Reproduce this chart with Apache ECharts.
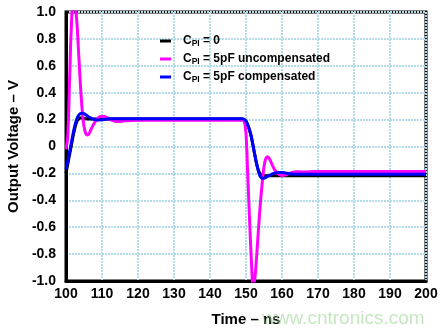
<!DOCTYPE html>
<html>
<head>
<meta charset="utf-8">
<script src="https://cdn.jsdelivr.net/npm/echarts@6/dist/echarts.min.js"></script>
<style>
  html, body { margin: 0; padding: 0; background: #ffffff; }
  #chart { width: 447px; height: 335px; }
</style>
</head>
<body>
<div id="chart"></div>
<script>
// Sample times (ns), shared by all three traces
const timeNs = [
  100, 100.5, 101, 101.5, 102, 102.5, 103, 103.5, 104, 104.5, 105, 105.5, 106, 106.5,
  107, 108, 109, 110, 111, 112, 113, 114, 115, 116,
  118, 120, 130, 140, 149,
  149.5, 150, 150.5, 151, 151.5, 152, 152.5, 153, 153.5, 154, 154.5, 155, 155.5, 156, 156.5, 157, 157.5,
  158, 159, 160, 161, 162, 163, 164, 165, 166,
  168, 170, 180, 190, 200
];

// Output voltage (V), CPI = 0
const outNoCap = [
  -0.2, -0.13, -0.06, 0.01, 0.08, 0.14, 0.185, 0.205, 0.212, 0.212, 0.208, 0.206, 0.205, 0.205,
  0.205, 0.205, 0.205, 0.205, 0.205, 0.205, 0.205, 0.205, 0.205, 0.205,
  0.205, 0.205, 0.205, 0.205, 0.205,
  0.2, 0.185, 0.16, 0.12, 0.07, 0.0, -0.07, -0.135, -0.18, -0.205, -0.215, -0.218, -0.218, -0.217, -0.217, -0.217, -0.217,
  -0.217, -0.217, -0.217, -0.217, -0.217, -0.217, -0.217, -0.217, -0.217,
  -0.217, -0.217, -0.217, -0.217, -0.217
];

// Output voltage (V), CPI = 5pF uncompensated
const outUncomp = [
  -0.02, 0.08, 0.5, 0.9, 1.06, 1.05, 0.93, 0.7, 0.46, 0.27, 0.15, 0.095, 0.085, 0.1,
  0.13, 0.18, 0.215, 0.225, 0.22, 0.205, 0.192, 0.186, 0.187, 0.19,
  0.194, 0.195, 0.195, 0.195, 0.195,
  0.19, 0.1, -0.22, -0.55, -0.85, -1.04, -0.97, -0.8, -0.6, -0.42, -0.27, -0.15, -0.09, -0.076, -0.09, -0.12, -0.15,
  -0.175, -0.205, -0.215, -0.21, -0.2, -0.192, -0.188, -0.188, -0.19,
  -0.188, -0.185, -0.185, -0.185, -0.185
];

// Output voltage (V), CPI = 5pF compensated
const outComp = [
  -0.17, -0.11, -0.04, 0.03, 0.1, 0.16, 0.205, 0.232, 0.245, 0.248, 0.244, 0.236, 0.226, 0.217,
  0.21, 0.2, 0.197, 0.199, 0.203, 0.206, 0.207, 0.207, 0.207, 0.207,
  0.207, 0.207, 0.207, 0.207, 0.207,
  0.2, 0.19, 0.16, 0.12, 0.07, 0.0, -0.07, -0.135, -0.19, -0.225, -0.236, -0.236, -0.23, -0.222, -0.215, -0.208, -0.202,
  -0.198, -0.193, -0.193, -0.197, -0.202, -0.205, -0.207, -0.207, -0.207,
  -0.207, -0.207, -0.207, -0.207, -0.207
];

const seriesNames = ['CPI = 0', 'CPI = 5pF uncompensated', 'CPI = 5pF compensated'];
const legendTails = [' = 0', ' = 5pF uncompensated', ' = 5pF compensated'];
const seriesValues = [outNoCap, outUncomp, outComp];
const seriesColors = ['#000000', '#ff00ff', '#0000ff'];

const FONT = '"Liberation Sans", Arial, sans-serif';

const chart = echarts.init(document.getElementById('chart'), null, { renderer: 'canvas' });

const pairs = (vals) => timeNs.map((t, i) => [t, vals[i]]);

const gridLine = { show: true, lineStyle: { color: '#b3dbe8', width: 2, type: [2, 1] } };

chart.setOption({
  backgroundColor: '#ffffff',
  animation: false,
  grid: {
    left: 66, right: 21, top: 12, bottom: 54,
    show: true, borderColor: '#000', borderWidth: 3,
    outerBoundsMode: 'none'
  },
  legend: {
    orient: 'vertical',
    left: 160, top: 35,
    padding: 0,
    itemWidth: 11, itemHeight: 3, itemGap: 5,
    icon: 'rect',
    data: seriesNames,
    formatter: (name) => '{c|C}{s|PI}{t|' + legendTails[seriesNames.indexOf(name)] + '}',
    textStyle: {
      fontFamily: FONT, fontWeight: 'bold', color: '#000',
      rich: {
        c: { fontFamily: FONT, fontWeight: 'bold', fontSize: 12, lineHeight: 14, padding: [0, 0, 0, 7], color: '#000' },
        s: { fontFamily: FONT, fontWeight: 'bold', fontSize: 8.5, lineHeight: 14, verticalAlign: 'bottom', padding: [3, 0, 0, 0], color: '#000' },
        t: { fontFamily: FONT, fontWeight: 'bold', fontSize: 12, lineHeight: 14, color: '#000' }
      }
    }
  },
  xAxis: {
    type: 'value',
    min: 100, max: 200, interval: 10,
    name: 'Time \u2013 ns',
    nameLocation: 'middle', nameGap: 31,
    nameTextStyle: { fontFamily: FONT, fontWeight: 'bold', fontSize: 15, color: '#000' },
    axisLine: { show: true, onZero: false, lineStyle: { color: '#000', width: 3 } },
    axisTick: { show: false },
    axisLabel: { margin: 6, fontFamily: FONT, fontWeight: 'bold', fontSize: 14, color: '#000' },
    splitLine: gridLine
  },
  yAxis: {
    type: 'value',
    min: -1, max: 1, interval: 0.2,
    name: 'Output Voltage \u2013 V',
    nameLocation: 'middle', nameGap: 44,
    nameTextStyle: { fontFamily: FONT, fontWeight: 'bold', fontSize: 15, color: '#000' },
    axisLine: { show: true, onZero: false, lineStyle: { color: '#000', width: 3 } },
    axisTick: { show: false },
    axisLabel: {
      margin: 10, fontFamily: FONT, fontWeight: 'bold', fontSize: 14, color: '#000',
      formatter: (v) => Math.abs(v) < 1e-9 ? '0' : v.toFixed(1)
    },
    splitLine: gridLine
  },
  series: seriesNames.map((name, i) => ({
    name,
    type: 'line',
    data: pairs(seriesValues[i]),
    showSymbol: false,
    smooth: 0.35,
    clip: true,
    color: seriesColors[i],
    lineStyle: { color: seriesColors[i], width: 3 },
    z: 2 + i
  })),
  graphic: [{
    type: 'text',
    left: 262, top: 309,
    z: 100,
    style: {
      text: 'www.cntronics.com',
      fontFamily: FONT, fontSize: 19,
      fill: 'rgba(150, 210, 140, 0.55)'
    }
  }]
});
</script>
</body>
</html>
